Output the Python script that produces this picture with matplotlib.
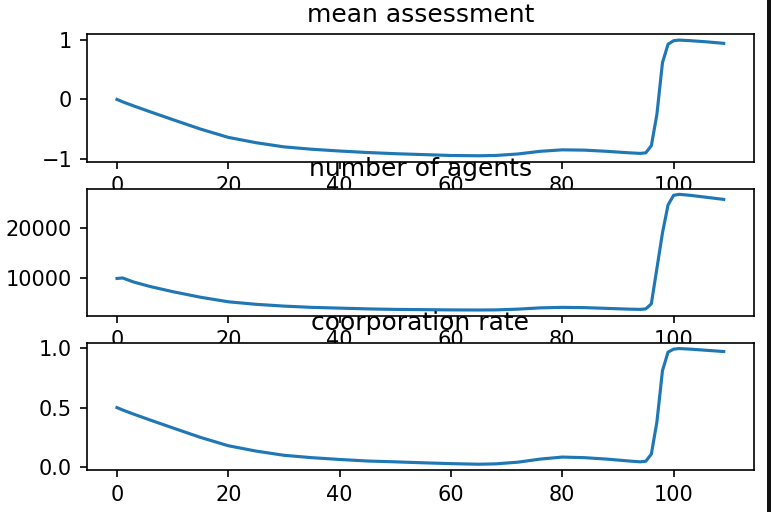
import matplotlib
matplotlib.use("Agg")
import matplotlib.pyplot as plt
from matplotlib.patches import Rectangle

# time steps (sampled where the curves bend)
steps = [0, 1, 3, 6, 10, 15, 20, 25, 30, 35, 40, 45, 50, 55, 60, 65, 68, 72,
         76, 80, 84, 88, 92, 94, 95, 96, 97, 98, 99, 100, 101, 103, 106, 109]

mean_assessment = [0.0, -0.04, -0.11, -0.21, -0.34, -0.50, -0.64, -0.73,
                   -0.80, -0.84, -0.87, -0.895, -0.915, -0.93, -0.945, -0.95,
                   -0.945, -0.92, -0.875, -0.85, -0.855, -0.875, -0.90, -0.91,
                   -0.90, -0.78, -0.25, 0.62, 0.93, 0.99, 1.0, 0.99, 0.97,
                   0.945]

n_agents = [10000, 10100, 9300, 8400, 7400, 6300, 5400, 4900, 4550, 4300,
            4150, 4000, 3900, 3850, 3800, 3780, 3800, 3950, 4200, 4300, 4250,
            4100, 3950, 3900, 4000, 5000, 12000, 19000, 24500, 26400, 26600,
            26400, 26000, 25600]

coop_rate = [0.50, 0.48, 0.445, 0.395, 0.33, 0.25, 0.18, 0.135, 0.10, 0.08,
             0.065, 0.052, 0.045, 0.037, 0.03, 0.025, 0.028, 0.042, 0.068,
             0.085, 0.08, 0.068, 0.052, 0.045, 0.05, 0.11, 0.38, 0.81, 0.965,
             0.99, 0.995, 0.99, 0.98, 0.97]

fig = plt.figure(figsize=(771 / 150, 512 / 150), dpi=150)
fig.subplots_adjust(left=0.1124, right=0.978, top=0.933, bottom=0.082,
                    hspace=0.212)

for i, (vals, title) in enumerate([(mean_assessment, "mean assessment"),
                                   (n_agents, "number of agents"),
                                   (coop_rate, "coorporation rate")]):
    ax = fig.add_subplot(3, 1, i + 1)
    ax.plot(steps, vals)
    ax.set_title(title)

# dark strip at right edge of the screenshot
fig.patches.append(Rectangle((767 / 771, 0), 4 / 771, 1, transform=fig.transFigure,
                             facecolor="#111111", edgecolor="none", zorder=10))

fig.savefig("out.png", dpi=150)
